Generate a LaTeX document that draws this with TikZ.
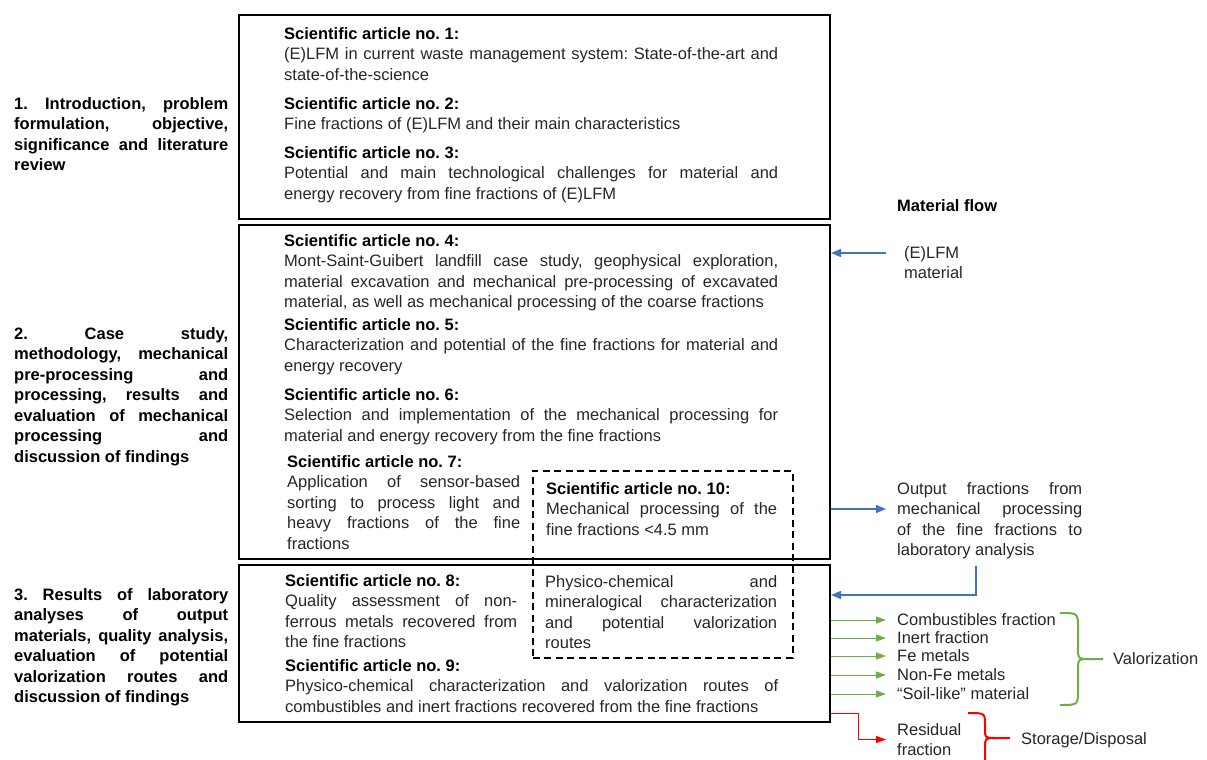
\documentclass[tikz,border=0pt]{standalone}
\usepackage{fontspec}
\setmainfont{Liberation Sans}
\usetikzlibrary{arrows.meta,calc}
\definecolor{flowblue}{HTML}{4472C4}
\definecolor{flowgreen}{HTML}{70AD47}
\definecolor{flowred}{HTML}{FF0000}
\definecolor{bodygray}{HTML}{262626}
\newcommand{\bodyfont}{\fontsize{16.5}{20.5}\selectfont\frenchspacing\tolerance=10000\hyphenpenalty=10000\hbadness=10000\relax}
\newcommand{\hd}[1]{\textbf{\color{black}#1}}
\newcommand{\lb}{\linebreak}

\begin{document}
\begin{tikzpicture}[x=1pt,y=-1pt,
  frame/.style={draw=black, line width=2pt, inner sep=0, anchor=north west},
  dashframe/.style={draw=black, line width=1.8pt, dash pattern=on 7pt off 4.5pt, inner sep=0, anchor=north west},
  txt/.style={inner sep=0, anchor=north west, align=justify, font=\bodyfont, text=bodygray},
  sect/.style={txt, font=\bodyfont\bfseries, text=black, text width=214pt},
  lbl/.style={inner sep=0, anchor=west, align=left, font=\bodyfont, text=bodygray},
  flow/.style={line width=1.6pt, -{Triangle[length=10pt,width=8pt]}},
  bracestyle/.style={line width=2pt}]
\useasboundingbox (0,0) rectangle (1207,760);

% chapter frames
\node[frame, minimum width=591pt, minimum height=204pt] (box1) at (238,14) {};
\node[frame, minimum width=591pt, minimum height=334pt] (box2) at (238,224) {};
\node[frame, minimum width=591pt, minimum height=157pt] (box3) at (238,564) {};
\node[dashframe, minimum width=260pt, minimum height=187pt] (box10) at (532,470) {};

% chapter titles
\node[sect] (s1) at (14,97) {1. Introduction, problem\lb formulation, objective,\lb significance and literature\lb review};
\node[sect] (s2) at (14,327) {2. Case study,\lb methodology, mechanical\lb pre-processing and\lb processing, results and\lb evaluation of mechanical\lb processing and\lb discussion of findings};
\node[sect] (s3) at (14,588) {3. Results of laboratory\lb analyses of output\lb materials, quality analysis,\lb evaluation of potential\lb valorization routes and\lb discussion of findings};

% articles
\node[txt, text width=494pt] (a1) at (284,27) {\hd{Scientific article no. 1:}\\(E)LFM in current waste management system: State-of-the-art and\lb state-of-the-science};
\node[txt, text width=494pt] (a2) at (284,97) {\hd{Scientific article no. 2:}\\Fine fractions of (E)LFM and their main characteristics};
\node[txt, text width=494pt] (a3) at (284,146) {\hd{Scientific article no. 3:}\\Potential and main technological challenges for material and\lb energy recovery from fine fractions of (E)LFM};
\node[txt, text width=494pt] (a4) at (284,234) {\hd{Scientific article no. 4:}\\Mont-Saint-Guibert landfill case study, geophysical exploration,\lb material excavation and mechanical pre-processing of excavated\lb material, as well as mechanical processing of the coarse fractions};
\node[txt, text width=494pt] (a5) at (284,318) {\hd{Scientific article no. 5:}\\Characterization and potential of the fine fractions for material and\lb energy recovery};
\node[txt, text width=494pt] (a6) at (284,388) {\hd{Scientific article no. 6:}\\Selection and implementation of the mechanical processing for\lb material and energy recovery from the fine fractions};
\node[txt, text width=233pt] (a7) at (287,455) {\hd{Scientific article no. 7:}\\Application of sensor-based\lb sorting to process light and\lb heavy fractions of the fine\lb fractions};
\node[txt, text width=231pt] (a10) at (546,482) {\hd{Scientific article no. 10:}\\Mechanical processing of the\lb fine fractions <4.5 mm};
\node[txt, text width=232pt] (a8) at (285,574) {\hd{Scientific article no. 8:}\\Quality assessment of non-\lb ferrous metals recovered from\lb the fine fractions};
\node[txt, text width=232pt] (a10b) at (545,575) {Physico-chemical and\lb mineralogical characterization\lb and potential valorization\lb routes};
\node[txt, text width=493pt] (a9) at (285,659) {\hd{Scientific article no. 9:}\\Physico-chemical characterization and valorization routes of\lb combustibles and inert fractions recovered from the fine fractions};

% material flow
\node[lbl, font=\bodyfont\bfseries, text=black] (mf) at (897,206) {Material flow};
\node[lbl, anchor=north west] (elfm) at (904,246) {(E)LFM\\material};
\node[txt, text width=185pt] (out) at (897,482) {Output fractions from\lb mechanical processing\lb of the fine fractions to\lb laboratory analysis};
\node[lbl] (g1) at (897,620) {Combustibles fraction};
\node[lbl] (g2) at (897,638) {Inert fraction};
\node[lbl] (g3) at (897,656) {Fe metals};
\node[lbl] (g4) at (897,675) {Non-Fe metals};
\node[lbl] (g5) at (897,694) {“Soil-like” material};
\node[lbl, anchor=north west] (res) at (897,723) {Residual\\fraction};
\node[lbl] (val) at (1113,659) {Valorization};
\node[lbl] (sto) at (1021,740) {Storage/Disposal};

% connectors
\coordinate (inE) at (886,253);
\draw[flow, flowblue] (inE) -- (inE -| box2.east);
\coordinate (outA) at (886,509);
\draw[flow, flowblue] (outA -| box2.east) -- (outA);
\coordinate (backA) at (976,566);
\coordinate (backB) at (0,595);
\draw[flow, flowblue] (backA) |- (backB -| box3.east);
\foreach \n in {g1,g2,g3,g4,g5}
  \draw[flow, flowgreen, line width=1pt, -{Triangle[length=10pt,width=7pt]}] (\n.west -| box3.east) -- ([xshift=-11pt]\n.west);
\coordinate (rbend) at (858,0);
\draw[flow, flowred, line width=1pt, -{Triangle[length=10pt,width=7pt]}] ([yshift=10pt]box3.south east) -| (rbend |- res.west) -- ([xshift=-11pt]res.west);

% braces
\draw[bracestyle, flowgreen] (1060,613) .. controls (1078,613) .. (1078,628) -- (1078,647)
  .. controls (1078,659) .. (1090,659) -- (val.west -| 1103,0);
\draw[bracestyle, flowgreen] (1090,659) .. controls (1078,659) .. (1078,671) -- (1078,690)
  .. controls (1078,705) .. (1060,705);
\draw[bracestyle, flowred] (968,713) .. controls (985,713) .. (985,725) -- (985,729)
  .. controls (985,738) .. (996,738) -- (1010,738);
\draw[bracestyle, flowred] (996,738) .. controls (985,738) .. (985,748) -- (985,775);
\end{tikzpicture}
\end{document}
